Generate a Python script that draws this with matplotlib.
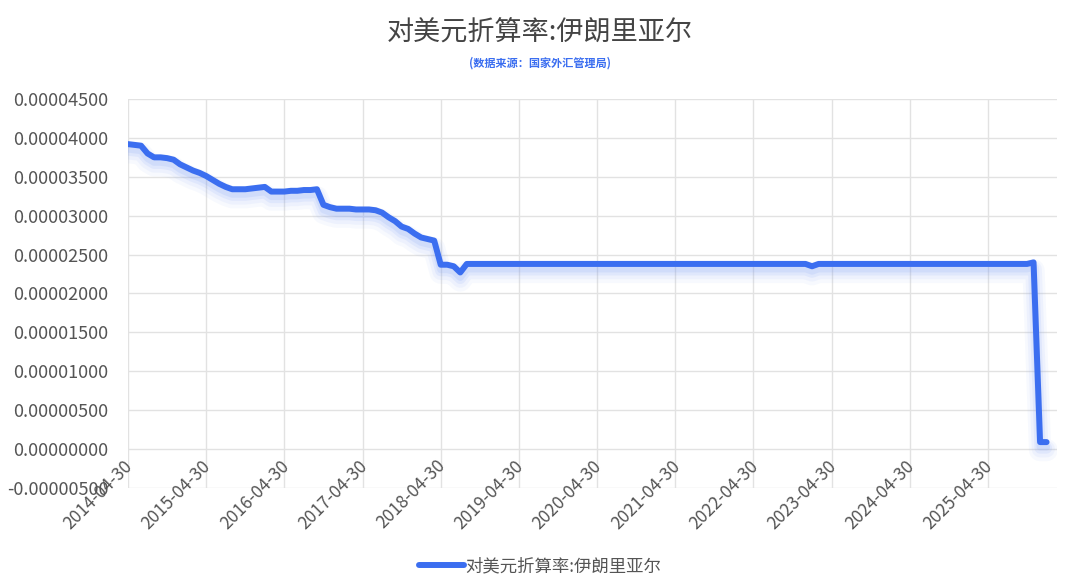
import numpy as np
import pandas as pd
import matplotlib
matplotlib.use('Agg')
import matplotlib.pyplot as plt
import matplotlib.transforms as mtransforms

plt.rcParams['font.family'] = ['Noto Sans CJK SC', 'DejaVu Sans']

# monthly data, 2014-04 .. 2026-02 (values in units of 1e-5 USD per rial)
dates = pd.date_range('2014-04-30', periods=143, freq='ME')
rate_e5 = (
    [3.92, 3.91, 3.90, 3.80, 3.75, 3.75, 3.74, 3.72, 3.66, 3.62, 3.58, 3.55,
     3.51, 3.46, 3.41, 3.37, 3.34, 3.34, 3.34, 3.35, 3.36, 3.37, 3.31, 3.31,
     3.31, 3.32, 3.32, 3.33, 3.33, 3.34, 3.14, 3.11, 3.09, 3.09, 3.09, 3.08,
     3.08, 3.08, 3.07, 3.04, 2.98, 2.93, 2.86, 2.83, 2.77, 2.72, 2.70, 2.68,
     2.37, 2.37, 2.35, 2.27, 2.38]
    + [2.38] * 52
    + [2.35]
    + [2.38] * 33
    + [2.40, 0.09, 0.09]
)
rate = np.array(rate_e5) * 1e-5
series_name = '对美元折算率:伊朗里亚尔'
title = '对美元折算率:伊朗里亚尔'
subtitle = '(数据来源：国家外汇管理局)'
tick_idx = list(range(0, len(dates), 12))
tick_labels = [dates[i].strftime('%Y-%m-%d') for i in tick_idx]
y_ticks = np.arange(-0.000005, 0.0000451, 0.000005)

line_color = '#3b6ef0'
text_color = '#555555'
grid_color = '#e2e2e2'

fig = plt.figure(figsize=(10.8, 5.87), dpi=100)
ax = fig.add_axes([128 / 1080, 1 - 488 / 587, (1057 - 128) / 1080, (488 - 99) / 587])

x = np.arange(len(rate))

# soft glow under the line
for w, a, dy in [(16, 0.06, -8), (12, 0.08, -7), (8, 0.12, -6), (5, 0.15, -5)]:
    tr = mtransforms.offset_copy(ax.transData, fig=fig, x=0, y=dy, units='dots')
    ax.plot(x, rate, color='#7f9ff5', lw=w, alpha=a, transform=tr,
            solid_capstyle='round', solid_joinstyle='round', zorder=2)
ax.plot(x, rate, color=line_color, lw=4.3, solid_capstyle='round',
        solid_joinstyle='round', zorder=3, label=series_name)

ax.set_xlim(0, 142.6)
ax.set_ylim(-0.000005, 0.000045)
ax.set_yticks(y_ticks)
ax.set_yticklabels(['%.8f' % v for v in y_ticks], color=text_color, fontsize=13)
ax.tick_params(axis='y', length=0, pad=14)
ax.set_xticks(tick_idx)
ax.set_xticklabels([])
ax.tick_params(axis='x', length=0)
ax.grid(True, color=grid_color, lw=1)
ax.set_axisbelow(True)
for s in ax.spines.values():
    s.set_visible(False)

# x labels hang from the zero line
lab_tr = mtransforms.offset_copy(ax.transData, fig=fig, x=2, y=-14, units='dots')
for i, lab in zip(tick_idx, tick_labels):
    ax.text(i, 0, lab, transform=lab_tr, rotation=45, rotation_mode='anchor',
            ha='right', va='center', color=text_color, fontsize=12.5)

fig.text(0.5, 1 - 33 / 587, title, ha='center', va='center', fontsize=19.5, color='#444444')
fig.text(0.5, 1 - 63 / 587, subtitle, ha='center', va='center', fontsize=8,
         color='#3b6ef0', fontweight='bold')

fig.legend(loc='center', bbox_to_anchor=(0.5, 1 - 566 / 587), frameon=False,
           fontsize=12.5, labelcolor=text_color, handlelength=2.6, handletextpad=0.1)

fig.savefig('out.png', dpi=100)
